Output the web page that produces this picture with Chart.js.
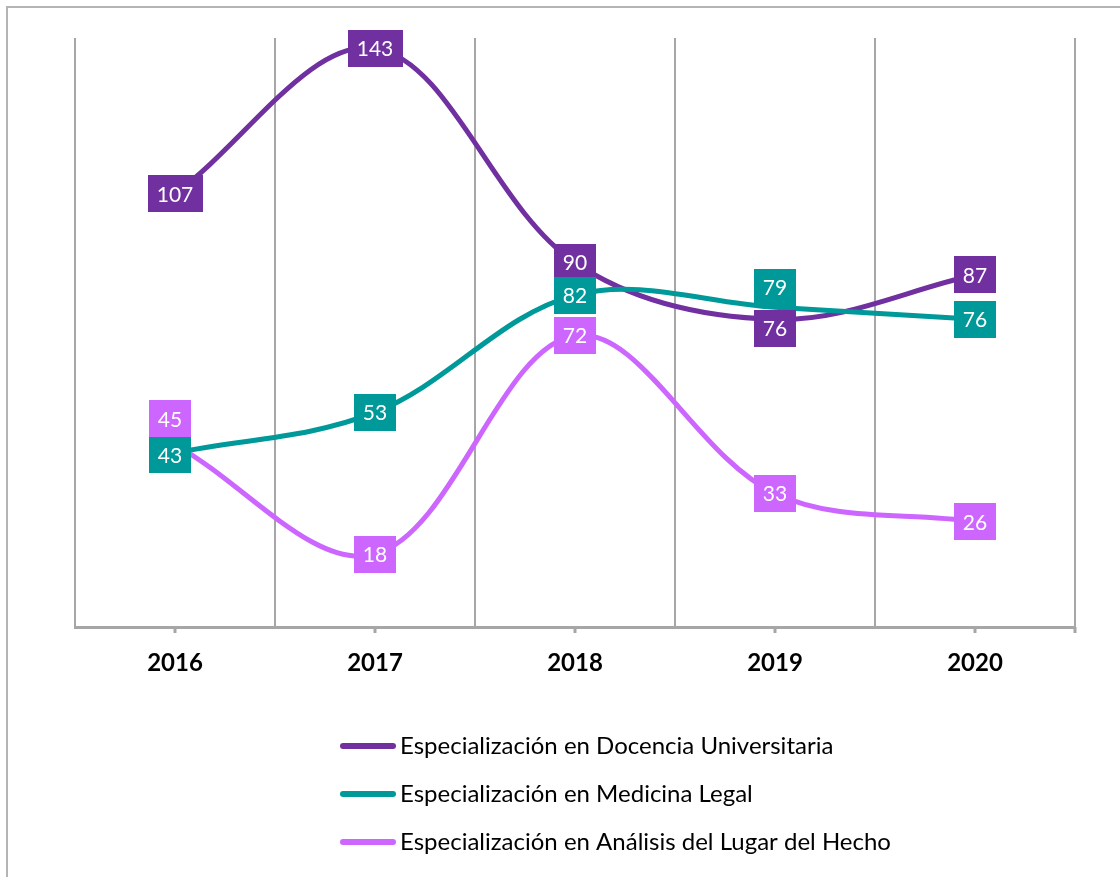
<!DOCTYPE html>
<html><head><meta charset="utf-8">
<script src="https://cdn.jsdelivr.net/npm/chart.js@4/dist/chart.umd.min.js"></script>
<style>
html,body{margin:0;padding:0;background:#fff;}
#wrap{position:relative;width:1120px;height:877px;}
canvas{display:block;}
</style></head><body>
<div id="wrap"><canvas id="c" width="1120" height="877"></canvas></div>
<script>
const years = ['2016', '2017', '2018', '2019', '2020'];
const seriesNames = [
  'Especialización en Docencia Universitaria',
  'Especialización en Medicina Legal',
  'Especialización en Análisis del Lugar del Hecho'
];
const docencia = [107, 143, 90, 76, 87];
const medicina = [43, 53, 82, 79, 76];
const analisis = [45, 18, 72, 33, 26];

const colors = ['#7030A0', '#009999', '#CC66FF'];
// manual label offsets (px) to mimic the reference label placement
const labelOffsets = [
  [[0,0],[0,0],[0,0],[0,9],[0,0]],
  [[-5,2],[0,0],[0,0],[0,-20],[0,0]],
  [[-5,-26],[0,0],[0,0],[0,0],[0,0]]
];
const FONT = 'Lato';

const decoPlugin = {
  id: 'deco',
  beforeDraw(chart) {
    const ctx = chart.ctx;
    ctx.save();
    ctx.strokeStyle = '#B4B4B4';
    ctx.lineWidth = 2;
    ctx.beginPath();
    ctx.moveTo(7, 877); ctx.lineTo(7, 7); ctx.lineTo(1120, 7);
    ctx.stroke();
    ctx.restore();
  },
  beforeDatasetsDraw(chart) {
    const ctx = chart.ctx, xs = chart.scales.x, area = chart.chartArea;
    ctx.save();
    ctx.strokeStyle = '#A6A6A6';
    ctx.lineWidth = 3;
    ctx.beginPath();
    years.forEach((y, i) => {
      const px = Math.round(xs.getPixelForValue(i));
      ctx.moveTo(px, area.bottom); ctx.lineTo(px, area.bottom + 6);
    });
    ctx.moveTo(area.right, area.bottom); ctx.lineTo(area.right, area.bottom + 6);
    ctx.stroke();
    ctx.restore();
  },
  afterDatasetsDraw(chart) {
    const ctx = chart.ctx;
    ctx.save();
    ctx.font = '21px ' + FONT;
    ctx.textAlign = 'center';
    ctx.textBaseline = 'middle';
    chart.data.datasets.forEach((ds, di) => {
      const meta = chart.getDatasetMeta(di);
      meta.data.forEach((pt, i) => {
        const txt = String(ds.data[i]);
        const off = labelOffsets[di][i];
        const cx = pt.x + off[0], cy = pt.y + off[1];
        const tw = ctx.measureText(txt).width;
        const w = Math.max(40, tw + 18), h = 37;
        ctx.fillStyle = ds.borderColor;
        ctx.fillRect(Math.round(cx - w / 2), Math.round(cy - h / 2), Math.round(w), h);
        ctx.fillStyle = '#FFFFFF';
        ctx.fillText(txt, cx, cy + 1);
      });
    });
    ctx.restore();
  },
  afterDraw(chart) {
    const ctx = chart.ctx;
    ctx.save();
    ctx.font = '24px ' + FONT;
    ctx.textBaseline = 'middle';
    ctx.textAlign = 'left';
    chart.data.datasets.forEach((ds, i) => {
      const y = 746 + i * 48;
      ctx.strokeStyle = ds.borderColor;
      ctx.lineWidth = 6;
      ctx.lineCap = 'round';
      ctx.beginPath(); ctx.moveTo(343, y); ctx.lineTo(393, y); ctx.stroke();
      ctx.fillStyle = '#000000';
      ctx.fillText(ds.label, 400, y);
    });
    ctx.restore();
  }
};

const seriesData = [docencia, medicina, analisis];
new Chart(document.getElementById('c'), {
  type: 'line',
  data: {
    labels: years,
    datasets: seriesData.map((d, i) => ({
      label: seriesNames[i],
      data: d,
      borderColor: colors[i],
      backgroundColor: colors[i],
      borderWidth: 5,
      tension: 0.35,
      pointRadius: 0,
      borderCapStyle: 'round',
      borderJoinStyle: 'round',
      fill: false,
      order: 3 - i
    }))
  },
  options: {
    responsive: false,
    animation: false,
    layout: { padding: { top: 38, left: 75, right: 45, bottom: 0 } },
    plugins: { legend: { display: false }, tooltip: { enabled: false } },
    scales: {
      x: {
        offset: true,
        grid: { offset: true, color: '#A6A6A6', lineWidth: 2, drawTicks: false },
        border: { color: '#A6A6A6', width: 3 },
        ticks: { font: { family: FONT, size: 24, weight: 'bold' }, color: '#000', padding: 22, maxRotation: 0 },
        afterFit(s) { s.height = 250; }
      },
      y: { display: false, min: 0, max: 145.5 }
    }
  },
  plugins: [decoPlugin]
});
</script>
</body></html>
